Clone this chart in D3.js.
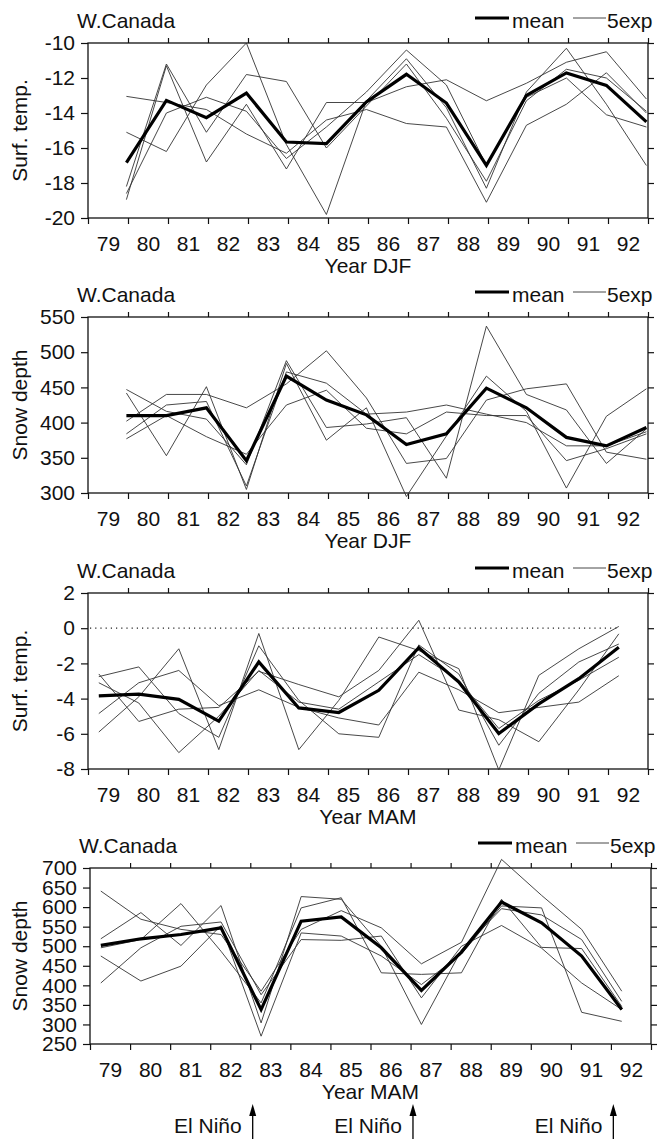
<!DOCTYPE html>
<html><head><meta charset="utf-8">
<script src="https://cdn.jsdelivr.net/npm/d3@7"></script>
<style>
body{margin:0;background:#fff}
svg{display:block}
text{font-family:"Liberation Sans",Arial,Helvetica,sans-serif;fill:#111}
</style>
</head><body>
<svg id="chart" width="659" height="1139"></svg>
<script>
// ---------------- data ----------------
const years = ["79","80","81","82","83","84","85","86","87","88","89","90","91","92"];
const region = "W.Canada";
const legendLabels = ["mean","5exp"];
const elNinoYears = ["83","87","92"];
const elNinoLabel = "El Niño";

// Panel 1: DJF surface temperature
const djfTempTicks = [-10,-12,-14,-16,-18,-20];
const djfTempMean = [-16.84,-13.28,-14.27,-12.86,-15.66,-15.75,-13.37,-11.79,-13.43,-16.99,-12.99,-11.71,-12.42,-14.51];
const djfTempExp1 = [-13.05,-13.4,-13.8,-15.2,-16.3,-14.4,-13.8,-14.6,-14.8,-19.1,-14.7,-13.5,-11.7,-14.0];
const djfTempExp2 = [-15.1,-16.2,-12.4,-10.0,-15.8,-19.8,-13.3,-10.9,-13.7,-18.3,-12.8,-10.3,-13.5,-17.0];
const djfTempExp3 = [-18.95,-11.3,-16.8,-13.5,-17.2,-13.4,-13.4,-12.5,-12.1,-13.3,-12.3,-11.1,-10.5,-13.2];
const djfTempExp4 = [-18.6,-14.0,-13.1,-13.9,-16.6,-14.8,-12.8,-10.4,-12.4,-17.0,-13.1,-12.0,-14.1,-14.8];
const djfTempExp5 = [-18.2,-11.2,-15.1,-11.8,-12.2,-16.0,-13.6,-11.2,-14.3,-17.9,-13.3,-11.5,-12.0,-13.9];

// Panel 2: DJF snow depth
const djfSnowTicks = [550,500,450,400,350,300];
const djfSnowMean = [410,410,421,346,466,432,411,369,384,449,421,379,367,393];
const djfSnowExp1 = [402,440,440,421,455,502,435,342,349,432,448,455,358,348];
const djfSnowExp2 = [447,416,405,340,488,393,398,407,321,537,440,418,342,391];
const djfSnowExp3 = [442,353,451,305,484,375,421,295,381,466,416,307,409,448];
const djfSnowExp4 = [384,425,430,310,472,456,412,415,425,412,400,367,367,387];
const djfSnowExp5 = [377,410,380,355,425,446,392,384,415,410,410,346,363,384];

// Panel 3: MAM surface temperature
const mamTempTicks = [2,0,-2,-4,-6,-8];
const mamTempMean = [-3.85,-3.75,-4.04,-5.28,-1.92,-4.53,-4.79,-3.53,-1.11,-3.06,-5.98,-4.3,-2.87,-1.08];
const mamTempExp1 = [-5.9,-3.9,-1.17,-6.9,-0.3,-6.9,-4.1,-0.5,-1.27,-2.3,-8.05,-2.68,-1.17,0.1];
const mamTempExp2 = [-2.6,-5.3,-4.6,-4.5,-2.45,-3.2,-3.9,-2.4,0.45,-4.65,-5.2,-6.45,-3.5,-0.32];
const mamTempExp3 = [-2.75,-2.2,-4.85,-6.2,-1.0,-4.1,-6.0,-6.2,-0.95,-2.6,-6.65,-3.7,-1.92,-0.9];
const mamTempExp4 = [-4.85,-3.1,-2.4,-4.4,-3.5,-4.5,-5.1,-5.5,-2.5,-3.5,-4.8,-4.5,-4.2,-2.7];
const mamTempExp5 = [-3.1,-4.25,-7.07,-5.0,-2.4,-4.2,-4.6,-3.05,-1.5,-2.95,-5.7,-4.1,-2.96,-1.65];

// Panel 4: MAM snow depth
const mamSnowTicks = [700,650,600,550,500,450,400,350,300,250];
const mamSnowMean = [502,519,530,547,338,564,575,496,387,485,613,560,475,338];
const mamSnowExp1 = [641,569,543,530,385,543,591,547,455,510,722,630,543,385];
const mamSnowExp2 = [519,586,502,604,304,627,620,500,300,490,596,580,517,359];
const mamSnowExp3 = [496,517,609,487,355,598,624,432,428,432,620,497,494,346];
const mamSnowExp4 = [475,411,449,553,270,534,526,475,402,480,603,598,331,308];
const mamSnowExp5 = [406,496,551,562,376,517,515,526,368,500,553,495,406,338];

// ---------------- layout ----------------
const panels = [
  {x0:88, x1:648, y0:43,  y1:218,  domain:[-20,-10], ticks:djfTempTicks, ylab:"Surf. temp.", xlab:"Year DJF", off:0.96,
   mean:djfTempMean, exps:[djfTempExp1,djfTempExp2,djfTempExp3,djfTempExp4,djfTempExp5]},
  {x0:88, x1:648, y0:317, y1:493,  domain:[300,550], ticks:djfSnowTicks, ylab:"Snow depth", xlab:"Year DJF", off:0.96,
   mean:djfSnowMean, exps:[djfSnowExp1,djfSnowExp2,djfSnowExp3,djfSnowExp4,djfSnowExp5]},
  {x0:88, x1:648, y0:593, y1:769,  domain:[-8,2], ticks:mamTempTicks, ylab:"Surf. temp.", xlab:"Year MAM", off:0.27, zero:true,
   mean:mamTempMean, exps:[mamTempExp1,mamTempExp2,mamTempExp3,mamTempExp4,mamTempExp5]},
  {x0:90, x1:651, y0:868, y1:1044, domain:[250,700], ticks:mamSnowTicks, ylab:"Snow depth", xlab:"Year MAM", off:0.27, elnino:true,
   mean:mamSnowMean, exps:[mamSnowExp1,mamSnowExp2,mamSnowExp3,mamSnowExp4,mamSnowExp5]}
];

const svg = d3.select("#chart");
const FS = 21;

panels.forEach(p => {
  const g = svg.append("g");
  const x = d3.scaleLinear().domain([0, years.length]).range([p.x0, p.x1]);
  const y = d3.scaleLinear().domain(p.domain).range([p.y1, p.y0]);
  const idx = d3.range(years.length);

  const la = g.append("g").attr("transform", `translate(${p.x0},0)`)
    .call(d3.axisLeft(y).tickValues(p.ticks).tickSize(7).tickPadding(6).tickFormat(d => String(d)));
  const ra = g.append("g").attr("transform", `translate(${p.x1},0)`)
    .call(d3.axisRight(y).tickValues(p.ticks).tickSize(6).tickFormat(""));
  const ba = g.append("g").attr("transform", `translate(0,${p.y1})`)
    .call(d3.axisBottom(x).tickValues(d3.range(0, years.length + 1)).tickSize(6).tickFormat(""));
  const ta = g.append("g").attr("transform", `translate(0,${p.y0})`)
    .call(d3.axisTop(x).tickValues(d3.range(1, years.length + 1)).tickSize(5).tickFormat(""));
  const bl = g.append("g").attr("transform", `translate(0,${p.y1})`)
    .call(d3.axisBottom(x).tickValues(idx.map(i => i + 0.5)).tickSize(0).tickPadding(18)
      .tickFormat((d, i) => years[i]));
  [la, ra, ba, ta, bl].forEach(a => {
    a.select(".domain").remove();
    a.selectAll("line").attr("stroke", "#111").attr("stroke-width", 1.2);
    a.selectAll("text").attr("font-size", FS).attr("fill", "#111")
      .attr("font-family", '"Liberation Sans",Arial,sans-serif');
  });
  bl.selectAll("line").remove();

  // frame
  g.append("rect").attr("x", p.x0).attr("y", p.y0)
    .attr("width", p.x1 - p.x0).attr("height", p.y1 - p.y0)
    .attr("fill", "none").attr("stroke", "#111").attr("stroke-width", 1.3);

  if (p.zero) {
    g.append("line")
      .attr("x1", x(0.05)).attr("x2", x(years.length - 1 + p.off))
      .attr("y1", y(0)).attr("y2", y(0))
      .attr("stroke", "#222").attr("stroke-width", 1.2).attr("stroke-dasharray", "1.2,4");
  }

  const line = d3.line().x((d, i) => x(i + p.off)).y(d => y(d));
  p.exps.forEach(e => {
    g.append("path").datum(e).attr("d", line)
      .attr("fill", "none").attr("stroke", "#333").attr("stroke-width", 0.9)
      .attr("stroke-linejoin", "miter");
  });
  g.append("path").datum(p.mean).attr("d", line)
    .attr("fill", "none").attr("stroke", "#000").attr("stroke-width", 3.2)
    .attr("stroke-linejoin", "miter");

  // title
  const tb = y(p.ticks[0]) - 15;
  g.append("text").attr("x", p.x0 - 11).attr("y", tb).attr("font-size", FS).text(region);
  // legend
  const lx = p.x1 - 173;
  g.append("line").attr("x1", lx).attr("x2", lx + 34).attr("y1", tb - 10).attr("y2", tb - 10)
    .attr("stroke", "#000").attr("stroke-width", 3);
  g.append("text").attr("x", lx + 37).attr("y", tb).attr("font-size", FS).text(legendLabels[0]);
  g.append("line").attr("x1", lx + 98).attr("x2", lx + 131).attr("y1", tb - 10).attr("y2", tb - 10)
    .attr("stroke", "#333").attr("stroke-width", 0.9);
  g.append("text").attr("x", lx + 132).attr("y", tb).attr("font-size", FS).text(legendLabels[1]);

  // axis titles
  g.append("text").attr("x", (p.x0 + p.x1) / 2).attr("y", p.y1 + 55)
    .attr("text-anchor", "middle").attr("font-size", FS).text(p.xlab);
  g.append("text")
    .attr("transform", `translate(27,${(p.y0 + p.y1) / 2}) rotate(-90)`)
    .attr("text-anchor", "middle").attr("font-size", FS).text(p.ylab);

  if (p.elnino) {
    elNinoYears.forEach(yr => {
      const i = years.indexOf(yr);
      const ax = x(i + 0.06);
      g.append("line").attr("x1", ax).attr("x2", ax).attr("y1", 1139).attr("y2", 1112)
        .attr("stroke", "#000").attr("stroke-width", 1.3);
      g.append("path").attr("d", `M${ax},1104 L${ax - 3.5},1116 L${ax + 3.5},1116 Z`).attr("fill", "#000");
      g.append("text").attr("x", ax - 11).attr("y", 1133).attr("text-anchor", "end")
        .attr("font-size", FS).text(elNinoLabel);
    });
  }
});
</script>
</body></html>
